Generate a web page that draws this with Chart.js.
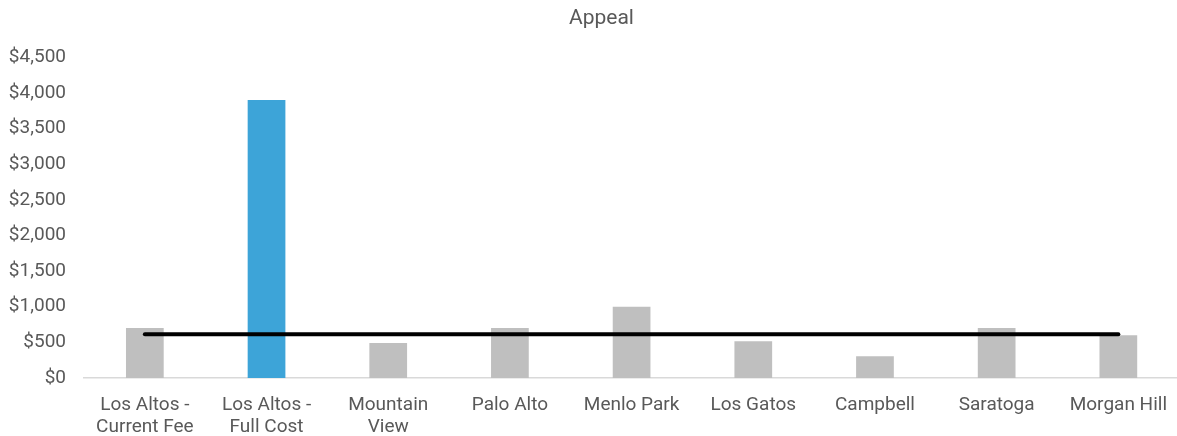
<!DOCTYPE html>
<html>
<head>
<meta charset="utf-8">
<script src="https://cdn.jsdelivr.net/npm/chart.js@4/dist/chart.umd.min.js"></script>
<style>
  html, body { margin: 0; padding: 0; background: #fff; overflow: hidden; }
  #wrap { width: 1183px; height: 436px; }
</style>
</head>
<body>
<div id="wrap"><canvas id="appealChart"></canvas></div>
<script>
  // categories (multi-line labels as in the source)
  const cities = [
    ['Los Altos -', 'Current Fee'],
    ['Los Altos -', 'Full Cost'],
    ['Mountain', 'View'],
    'Palo Alto',
    'Menlo Park',
    'Los Gatos',
    'Campbell',
    'Saratoga',
    'Morgan Hill'
  ];
  const appealFees = [700, 3900, 490, 700, 1000, 515, 305, 700, 600];
  const averageFee = [615, 615, 615, 615, 615, 615, 615, 615, 615];
  const barColors = ['#bfbfbf', '#3da4d8', '#bfbfbf', '#bfbfbf', '#bfbfbf', '#bfbfbf', '#bfbfbf', '#bfbfbf', '#bfbfbf'];
  const yMax = 4500;
  const yStep = 500;

  const textGray = '#595959';
  Chart.defaults.font.family = 'Roboto, "Noto Sans", sans-serif';
  Chart.defaults.font.size = 19;
  Chart.defaults.color = textGray;

  function money(v) {
    return '$' + Number(v).toLocaleString('en-US');
  }

  // the source title sits a little right of the canvas centre
  const nudgeTitle = {
    id: 'nudgeTitle',
    afterLayout: function (chart) {
      if (chart.titleBlock) chart.titleBlock.left += 20;
    }
  };

  new Chart(document.getElementById('appealChart').getContext('2d'), {
    type: 'bar',
    data: {
      labels: cities,
      datasets: [
        {
          type: 'line',
          label: 'Average',
          data: averageFee,
          borderColor: '#000',
          borderWidth: 4,
          borderCapStyle: 'round',
          pointRadius: 0,
          fill: false,
          order: 0
        },
        {
          label: 'Appeal',
          data: appealFees,
          backgroundColor: barColors,
          borderWidth: 0,
          categoryPercentage: 1,
          barPercentage: 0.31,
          order: 1
        }
      ]
    },
    plugins: [nudgeTitle],
    options: {
      responsive: true,
      maintainAspectRatio: false,
      animation: false,
      layout: { padding: 0 },
      plugins: {
        legend: { display: false },
        tooltip: { enabled: false },
        title: {
          display: true,
          text: 'Appeal',
          color: textGray,
          font: { size: 21, weight: 'normal' },
          padding: { top: 6, bottom: 26 }
        }
      },
      scales: {
        x: {
          grid: { display: false, drawTicks: false },
          border: { display: true, color: '#d9d9d9', width: 1.5 },
          ticks: { padding: 16, maxRotation: 0, autoSkip: false, font: { size: 19, lineHeight: 1.18 } },
          afterFit: function (s) { s.height = 58; }
        },
        y: {
          min: 0,
          max: yMax,
          grid: { display: false, drawTicks: false },
          border: { display: false },
          ticks: { stepSize: yStep, padding: 18, callback: money },
          afterFit: function (s) { s.width = 84; }
        }
      }
    }
  });
</script>
</body>
</html>
